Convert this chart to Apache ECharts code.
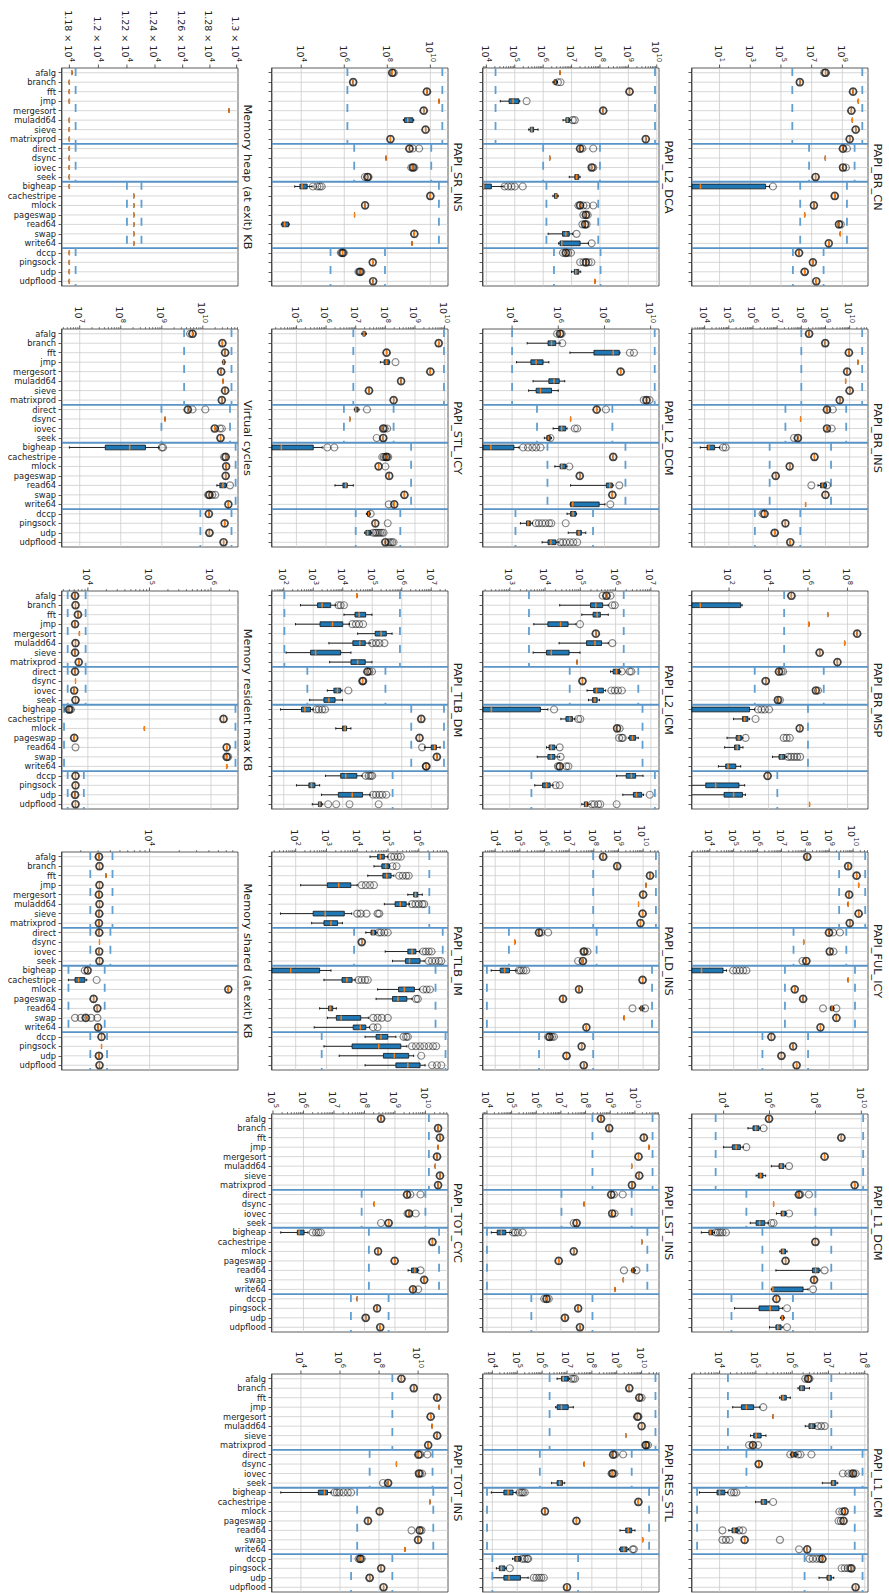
<!DOCTYPE html>
<html>
<head>
<meta charset="utf-8">
<script src="https://cdn.jsdelivr.net/npm/echarts@6/dist/echarts.min.js"></script>
<style>
  html, body { margin: 0; padding: 0; background: #fff; overflow: hidden; width: 889px; height: 1593px; }
  /* the figure is drawn landscape and turned a quarter clockwise */
  #main { position: absolute; left: 0; top: 0; width: 1593px; height: 889px;
          transform-origin: 0 0; transform: translate(889px, 0) rotate(90deg); }
</style>
</head>
<body>
<div id="main"></div>
<script>
const categories = ['afalg', 'branch', 'fft', 'jmp', 'mergesort', 'muladd64', 'sieve', 'matrixprod',
  'direct', 'dsync', 'iovec', 'seek',
  'bigheap', 'cachestripe', 'mlock', 'pageswap', 'read64', 'swap', 'write64',
  'dccp', 'pingsock', 'udp', 'udpflood'];
const groups = [[0, 7], [8, 11], [12, 18], [19, 22]];

// box entries: number = runs all at one value (median + circle), [v] = median only,
// [lo, q1, med, q3, hi] = full box.  *Out = extra fliers [category, value].
// *Ref = per group dashed lines [low, high].

// PAPI_BR_CN
const brCnBox = [8e7, 1.7e6, 5e9, [1.1e10], 3.9e9, [4.5e9], 7.4e9, 3e9, 1.1e9, [7.8e7], 1.1e9, 1.8e7,
  [0.05, 0.1, 0.57, 1e4, 1.8e4], 3.2e8, 1.4e7, [3.5e6], 6e8, [7.4e8], 1.3e8, 1.5e6, 1.2e7, 3.5e6, 2e7];
const brCnOut = [[0, 6.5e7], [8, 2e9], [10, 1.7e9], [12, 3e4], [16, 8e8]];
const brCnRef = [[5.5e5, 2e10], [6.8e6, 6.3e9], [1.8e6, 2e9], [6e5, 6e7]];
const brCnDec = [1, 3, 5, 7, 9];

// PAPI_BR_INS
const brInsBox = [2.1e8, 9.8e8, 9.3e9, [2.2e10], 7.9e9, [6.8e9], 1e10, 3.9e9, 1.15e9, [9.3e7], 1.15e9, 7.2e7,
  [6.6e3, 1.26e4, 1.5e4, 2.6e4, 4.2e4], 3.5e8, 3.3e7, 8.7e6, [4.9e8, 6.2e8, 7.9e8, 1.07e9, 1.1e9], 1e9, [1.5e8],
  3e6, 2.2e7, 7.9e6, 3.5e7];
const brInsOut = [[8, 2e9], [10, 1.8e9], [11, 5e7], [12, 5.8e4], [12, 7.4e4], [16, 2.6e8], [16, 1.15e9], [19, 2.5e6]];
const brInsRef = [[1e8, 3.3e10], [2.2e7, 7.2e9], [4.9e6, 1.7e9], [1.2e6, 9.1e7]];
const brInsDec = [4, 5, 6, 7, 8, 9, 10];

// PAPI_BR_MSP
const brMspBox = [1.45e5, [1, 1, 3.5, 3.9e2, 4.6e2], [1e7], [1.1e6], 3.1e8, [7.2e7], 3.9e6, 3.1e7, 3.4e4, 7.2e3, 2.5e6, 3e4,
  [1, 1, 1.2, 1.1e3, 2e3], [1.7e2, 4.8e2, 6.2e2, 9.1e2, 1.1e3], 3.8e5, [79, 2.3e2, 3.2e2, 4.2e2, 5.1e2],
  [60, 1.9e2, 2.6e2, 3.5e2, 5.1e2], [1.6e4, 3.4e4, 4.5e4, 6.6e4, 8.1e4], [29, 68, 89, 2.2e2, 3.9e2],
  9e3, [1, 6.6, 21, 3.2e2, 6.2e2], [1, 56, 1.7e2, 4.8e2, 6.8e2], [1.2e6]];
const brMspOut = [[8, 4.5e4], [8, 5.5e4], [10, 3.2e6], [11, 3.8e4], [12, 3e3], [12, 4.4e3], [12, 6.5e3], [12, 1.07e4],
  [13, 2.2e3], [15, 6.9e2], [15, 5.9e4], [15, 8.3e4], [15, 1.2e5], [17, 1e5], [17, 1.4e5], [17, 2e5], [17, 2.8e5], [17, 4e5]];
const brMspRef = [[6.2e4, 5e9], [2e3, 6.3e6], [1, 1e6], [1, 2.8e4]];
const brMspDec = [2, 4, 6, 8];

// PAPI_FUL_ICY
const fulIcyBox = [1.2e8, 6.2e9, 1.4e10, [1.7e10], 6.8e9, [6.2e9], 1.7e10, 7.2e9, 9.8e8, [8.5e7], 1.05e9, 1.1e8,
  [5e2, 1e3, 4.5e3, 3.6e4, 5e4], [6.2e9], 3.6e7, 8.1e7, [1.1e9, 1.15e9, 1.35e9, 1.5e9, 1.6e9], 2e9, 4.3e8,
  3.8e6, 3.1e7, 1e7, 4.3e7];
const fulIcyOut = [[8, 1.45e9], [8, 2.8e9], [10, 1.5e9], [11, 7.6e7], [12, 9.5e4], [12, 1.3e5], [12, 1.8e5], [12, 2.5e5],
  [12, 3.4e5], [16, 5.5e8], [16, 2e9]];
const fulIcyRef = [[2.6e9, 3.2e10], [3.2e7, 5.2e9], [1.4e7, 1.2e10], [1.6e6, 1.3e8]];
const fulIcyDec = [4, 5, 6, 7, 8, 9, 10];

// PAPI_L1_DCM
const l1DcmBox = [9.5e5, [1.15e5, 1.9e5, 2.5e5, 3.5e5, 4e5], 1.35e9, [1e4, 2.4e4, 3.5e4, 5.4e4, 7.2e4], 2.5e8,
  [1.2e6, 2.6e6, 3.2e6, 4.2e6, 5e6], [2.6e5, 3.2e5, 4.1e5, 5.2e5, 6.8e5], 5.1e9, 1.9e7, [1.5e6],
  [2e6, 3.2e6, 3.9e6, 5e6, 5.6e6], [1.45e5, 2.6e5, 3.7e5, 6.2e5, 8.9e5], [1.07e3, 2.3e3, 2.6e3, 3.4e3, 4e3], 1e8,
  [2.8e6, 3.2e6, 3.9e6, 5e6, 5.8e6], 5e6, [1.9e6, 7.4e7, 1.02e8, 1.45e8, 1.6e8], 8.7e7,
  [1.2e6, 1.3e6, 1.4e6, 2.9e7, 4.8e7], 2e6, [3e4, 3.5e5, 1.07e6, 2.6e6, 3.7e6], [3e6, 3.4e6, 3.6e6, 4e6, 4.4e6],
  [1e6, 1.9e6, 2.3e6, 3.2e6, 3.8e6]];
const l1DcmOut = [[1, 5.5e5], [3, 9.8e4], [5, 7.1e6], [8, 2.2e7], [8, 5.2e7], [10, 7.1e6], [11, 1.2e6], [11, 1.5e6],
  [12, 4.5e3], [12, 5.6e3], [12, 7.1e3], [12, 8.9e3], [12, 1.26e4], [16, 2.5e8], [18, 7.9e7], [20, 5.8e6], [22, 5.8e6]];
const l1DcmRef = [[4.5e3, 1.2e10], [9.8e4, 1e8], [4.9e5, 4.9e8], [2.2e4, 1.05e7]];
const l1DcmDec = [4, 6, 8, 10];

// PAPI_L1_ICM
const l1IcmBox = [2.75e6, [1.45e6, 1.6e6, 1.8e6, 2.2e6, 3e6], [4.5e5, 5e5, 5.6e5, 6.9e5, 8.9e5],
  [2.3e4, 4e4, 5.5e4, 8.7e4, 1.3e5], [3e5], [2.3e6, 2.9e6, 3.4e6, 4.2e6, 4.5e6], [7.1e4, 8.7e4, 1.02e5, 1.4e5, 1.9e5],
  8.3e4, [8.9e5, 9.3e5, 1.05e6, 1.3e6, 1.45e6], 1.2e5, 4.8e7, [6.8e6, 1.2e7, 1.35e7, 1.6e7, 1.8e7],
  [2.8e3, 8.5e3, 1e4, 1.4e4, 1.7e4], [9.8e4, 1.4e5, 1.6e5, 2e5, 2.3e5], 2.8e7, 2.6e7,
  [1.8e4, 2.2e4, 2.5e4, 3.2e4, 3.4e4], 4.9e4, 2.6e6, 6.8e6, 4.3e7, [5.5e6, 9.1e6, 1.05e7, 1.2e7, 1.4e7], 5.6e7];
const l1IcmOut = [[0, 2.3e6], [0, 3e6], [3, 1.6e5], [5, 5.1e6], [5, 6.3e6], [5, 7.9e6], [7, 6.5e4], [7, 1.15e5],
  [8, 8.9e5], [8, 1.45e6], [8, 1.7e6], [8, 3.4e6], [10, 2.5e7], [10, 3.5e7], [10, 4.3e7], [10, 5.6e7],
  [12, 2.1e4], [12, 2.5e4], [12, 2.9e4], [13, 3e5], [14, 2e7], [14, 2.4e7], [15, 1.9e7], [15, 2.2e7],
  [16, 1.2e4], [16, 3.5e4], [16, 4.4e4], [17, 1.2e4], [17, 1.5e4], [17, 1.9e4], [17, 4.6e5], [18, 1.55e6],
  [19, 3e6], [19, 3.7e6], [19, 4.7e6], [19, 5.8e6], [20, 2.3e7], [20, 2.8e7], [20, 3.4e7], [20, 3.9e7]];
const l1IcmRef = [[1.7e4, 1.2e7], [5.5e4, 8.7e7], [2.4e3, 5.3e7], [2.2e6, 8.7e7]];
const l1IcmDec = [4, 5, 6, 7, 8];

// PAPI_L2_DCA
const l2DcaBox = [[3.9e6], [2.2e6, 2.4e6, 2.6e6, 3e6, 3.2e6], 1.1e9, [3.1e4, 6.3e4, 8.7e4, 1.4e5, 1.5e5], 1.3e8,
  [5e6, 6.3e6, 7.1e6, 8.3e6, 9.5e6], [3.1e5, 3.5e5, 3.9e5, 4.6e5, 6.6e5], 4.1e9, 2e7, [1.7e6], 5.1e7,
  [8.3e6, 1.3e7, 1.5e7, 1.8e7, 2e7], [5e3, 6e3, 8e3, 1.5e4, 3.9e4], [2.2e6, 2.5e6, 2.8e6, 3.1e6, 3.4e6], 2e7, 3.2e7, 3e7,
  [1.5e6, 4.8e6, 6.3e6, 8.3e6, 1.1e7], [3.5e6, 3.9e6, 4.5e6, 2e7, 3.9e7], 6.3e6, 3.2e7,
  [1e7, 1.25e7, 1.4e7, 1.8e7, 2.1e7], [6.6e7]];
const l2DcaOut = [[1, 3.3e6], [1, 4.1e6], [3, 2.6e5], [5, 1.1e7], [5, 1.3e7], [8, 2.4e7], [8, 5.8e7], [10, 5.8e7],
  [12, 4.4e4], [12, 5.8e4], [12, 7.6e4], [12, 1e5], [12, 1.9e5], [14, 1.75e7], [14, 2.6e7], [14, 3.4e7], [14, 5.8e7],
  [15, 2.6e7], [15, 3.7e7], [16, 2.4e7], [16, 3.4e7], [17, 1.5e7], [18, 5.1e7], [19, 5e6], [19, 7.5e6], [19, 9.5e6],
  [20, 2e7], [20, 2.6e7], [20, 4e7], [20, 5e7]];
const l2DcaRef = [[2.1e4, 8.7e9], [1e6, 1e8], [1.3e6, 8.7e7], [2.4e6, 1.05e8]];
const l2DcaDec = [4, 5, 6, 7, 8, 9, 10];

// PAPI_L2_DCM
const l2DcmBox = [1.2e6, [4.5e4, 3.6e5, 5.1e5, 7.8e5, 1.2e6], [3.2e6, 3.5e7, 2.4e8, 4.4e8, 4.7e8],
  [1.55e4, 6.5e4, 1.1e5, 2.2e5, 3.9e5], 5e8, [8.1e4, 3.9e5, 6.5e5, 1.1e6, 1.9e6], [5.2e4, 1.1e5, 1.7e5, 5.1e5, 1e6],
  6.6e9, 4.6e7, [3.4e6], [6e5, 1.05e6, 1.4e6, 2.1e6, 2.4e6], [2.5e5, 3.2e5, 3.6e5, 4.5e5, 5.1e5],
  [1e2, 2e2, 1.2e3, 1.2e4, 2e4], 2.4e8, [7.1e5, 1.2e6, 1.4e6, 2.1e6, 2.4e6], 8.5e6,
  [3.4e6, 1.2e8, 1.7e8, 2.2e8, 2.4e8], 2.2e8, [3.3e6, 3.4e6, 4.2e6, 5.9e7, 1.05e8], [2.4e6, 3.4e6, 4.4e6, 5.8e6, 6.2e6],
  [2.3e4, 4.2e4, 4.9e4, 6.2e4, 7.5e4], [2.7e6, 6.3e6, 7.9e6, 1e7, 1.55e7], [2e5, 3.6e5, 4.8e5, 7.8e5, 1e6]];
const l2DcmOut = [[0, 8.9e5], [0, 1.4e6], [1, 1.5e6], [2, 1.26e9], [2, 1.9e9], [7, 5e9], [7, 9e9], [8, 1.15e8],
  [10, 5.2e6], [10, 6.6e6], [11, 4.6e5], [12, 3e4], [12, 4.9e4], [12, 7.6e4], [12, 1.1e5], [12, 1.7e5], [14, 3e6],
  [16, 4.4e8], [18, 1.8e8], [20, 1.07e5], [20, 1.45e5], [20, 2e5], [20, 2.8e5], [20, 4e5], [20, 5e5], [20, 2.1e6],
  [22, 1.2e6], [22, 1.6e6], [22, 2.2e6], [22, 3.2e6], [22, 4.5e6], [22, 6.6e6]];
const l2DcmRef = [[1e4, 1.5e10], [1.2e5, 2.2e8], [3.4e5, 8.1e8], [1.4e4, 3.2e7]];
const l2DcmDec = [4, 6, 8, 10];

// PAPI_L2_ICM
const l2IcmBox = [5.5e5, [2.6e4, 1.95e5, 2.75e5, 4.3e5, 6.2e5], [1.1e5, 2.3e5, 3e5, 3.7e5, 6.2e5],
  [4.8e3, 1.2e4, 2.75e4, 4.5e4, 7.5e4], 2.75e5, [2.5e4, 1.5e5, 2.6e5, 4e5, 6.2e5], [4.6e3, 1.1e4, 1.5e4, 4.8e4, 9.8e4],
  [8.1e4], [7.2e5, 8.5e5, 1.07e6, 1.3e6, 1.4e6], 1.15e5, [1.55e5, 2.4e5, 2.9e5, 4.5e5, 5.2e5],
  [1.7e5, 2.2e5, 2.6e5, 3e5, 3.5e5], [50, 100, 3e2, 7.4e3, 1.2e4], [2.8e4, 3.9e4, 5e4, 6e4, 7e4], 1.1e6,
  [2.3e6, 2.5e6, 3e6, 3.7e6, 4.4e6], [1.1e4, 1.3e4, 1.5e4, 1.9e4, 2.1e4], [6e3, 1.2e4, 1.5e4, 1.9e4, 2.6e4], 2.6e4,
  [1.07e6, 2e6, 2.8e6, 3.7e6, 6e6], [5.1e3, 8.5e3, 1.1e4, 1.4e4, 1.7e4], [1.6e6, 3.2e6, 3.9e6, 5.5e6, 6.2e6],
  [1.1e5, 1.3e5, 1.45e5, 1.6e5, 1.9e5]];
const l2IcmOut = [[0, 4.3e5], [0, 7.2e5], [1, 8.1e5], [1, 9.5e5], [3, 9.8e4], [5, 8.1e5], [8, 1.5e6], [8, 2.5e6],
  [8, 2.8e6], [10, 7.6e5], [10, 9.5e5], [10, 1.17e6], [10, 1.5e6], [12, 1.8e4], [13, 8.7e4], [13, 1e5], [14, 1.3e6],
  [15, 1.26e6], [15, 1.5e6], [15, 1.6e6], [16, 2.6e4], [17, 2.75e4], [18, 2.3e4], [18, 4e4], [18, 4.6e4], [20, 2e4],
  [20, 2.6e4], [21, 9.3e6], [22, 2.1e5], [22, 2.5e5], [22, 3.2e5], [22, 3.7e5], [22, 1.07e6]];
const l2IcmRef = [[3.5e3, 1.7e6], [5e4, 4.4e6], [100, 5.8e6], [4.1e3, 1.3e7]];
const l2IcmDec = [3, 4, 5, 6, 7];

// PAPI_LD_INS
const ldInsBox = [2.4e8, 8.9e8, 1.9e10, [1.3e10], 1e10, [6.5e9], 9.5e9, 7.8e9, 6e5, [6.2e4], 3.9e7, 3.6e7,
  [6.9e3, 1.6e4, 2.4e4, 3.8e4, 7.1e4], 9.5e9, 2.5e7, 5.6e6, [7e9, 7.8e9, 8.5e9, 9.8e9, 1.1e10], [1.7e9], 5e7,
  1.6e6, 3.2e7, 7.8e6, 3.9e7];
const ldInsOut = [[8, 7.4e5], [8, 1.4e6], [10, 4.3e7], [10, 5.5e7], [11, 2.3e7], [12, 9.1e4], [12, 1.1e5], [12, 1.4e5],
  [12, 1.8e5], [16, 3.7e9], [16, 1.2e10], [19, 1.4e6], [19, 2e6], [19, 2.4e6]];
const ldInsRef = [[9.4e7, 3.3e10], [3.6e4, 1.3e8], [4.6e3, 2.3e10], [6e5, 9.4e7]];
const ldInsDec = [4, 5, 6, 7, 8, 9, 10];

// PAPI_LST_INS
const lstInsBox = [4.2e8, 9.1e8, 2.3e10, [3.7e10], 1.4e10, [7.4e9], 1.5e10, 7.6e9, 1.1e9, [8.7e7], 1.2e9, 4.3e7,
  [1.5e4, 2.6e4, 3.8e4, 5.8e4, 1e5], [1.9e10], 3.3e7, 8.1e6, [7.2e9, 7.6e9, 8.1e9, 9.5e9, 1.05e10], [3.4e9], [1.55e9],
  2.6e6, 5e7, 1.45e7, 5.9e7];
const lstInsOut = [[8, 1.4e9], [8, 3.2e9], [10, 1.5e9], [11, 3.3e7], [12, 1.15e5], [12, 1.4e5], [12, 1.8e5], [12, 2.8e5],
  [16, 3.6e9], [16, 1.15e10], [19, 2.1e6], [19, 3.2e6]];
const lstInsRef = [[1.9e8, 5.2e10], [1.05e7, 7.4e9], [1e4, 3.2e10], [6.3e5, 1.9e8]];
const lstInsDec = [4, 5, 6, 7, 8, 9, 10];

// PAPI_RES_STL
const resStlBox = [[4e6, 6e6, 7.1e6, 1.12e7, 1.3e7], 3.2e9, 8.1e9, [3.5e6, 4e6, 6e6, 1.12e7, 1.8e7], 6.8e9, 1e10, [2.3e9],
  1.5e10, 7.2e8, [4.9e7], 6.8e8, [2.4e6, 4e6, 5.1e6, 6.6e6, 8.1e6], [9.1e3, 2.9e4, 4.3e4, 6.8e4, 9e4], 7.4e9, 1.3e6,
  2.4e7, [1.35e9, 2.3e9, 2.9e9, 4e9, 5.4e9], [1.1e10], [1.3e9, 1.4e9, 1.95e9, 2.6e9, 3e9],
  [6.5e4, 7.9e4, 9.8e4, 1.35e5, 1.4e5], [1.45e4, 1.9e4, 2.3e4, 3.2e4, 3.6e4], [1e4, 2.9e4, 4.7e4, 1.35e5, 2.75e5], 1e7];
const resStlOut = [[0, 1.5e7], [0, 1.8e7], [0, 2.1e7], [2, 1e10], [4, 7.5e9], [7, 1.4e10], [7, 1.8e10], [8, 8.5e8],
  [8, 1.8e9], [10, 6.2e8], [10, 8e8], [12, 1.26e5], [12, 1.5e5], [12, 1.7e5], [12, 2e5], [18, 4.4e9], [18, 4.9e9],
  [19, 1.6e5], [19, 2e5], [19, 2.5e5], [19, 2.75e5], [20, 5e4], [21, 4.6e5], [21, 5.9e5], [21, 7.6e5], [21, 9.3e5],
  [21, 1.17e6]];
const resStlRef = [[2e6, 3.6e10], [8.1e5, 4e9], [6.1e3, 2e10], [1e4, 2.8e7]];
const resStlDec = [4, 5, 6, 7, 8, 9, 10];

// PAPI_SR_INS
const srInsBox = [1.7e8, 2.6e6, 6.9e9, [2.5e10], 4.9e9, [5.6e8, 6.3e8, 8.9e8, 1.55e9, 1.7e9], 6e9, 1.4e8, 1.07e9,
  [8.7e7], 1.55e9, 1.2e7, [5e3, 8.7e3, 1.1e4, 1.9e4, 3.2e4], 1e10, 9.3e6, [3e6], [1.2e3, 1.3e3, 1.7e3, 2.6e3, 2.8e3],
  1.8e9, [1.4e9], 8.3e5, 2.1e7, 5.4e6, 2.2e7];
const srInsOut = [[0, 2e8], [8, 1.55e9], [8, 3e9], [10, 1.3e9], [10, 1.8e9], [11, 9.1e6], [11, 1.35e7], [12, 3.5e4],
  [12, 5.6e4], [12, 7.2e4], [12, 8.9e4], [19, 7e5], [19, 9.5e5], [21, 4.6e6], [21, 6.2e6]];
const srInsRef = [[1.4e6, 3.6e10], [2.9e6, 1.1e10], [1e2, 2.5e10], [2.3e5, 7.8e7]];
const srInsDec = [4, 6, 8, 10];

// PAPI_STL_ICY
const stlIcyBox = [[1.6e7, 1.75e7, 1.9e7, 2.1e7, 2.3e7], 6.3e9, 1.1e8, [6.8e7, 9.1e7, 1.1e8, 1.35e8, 1.4e8], 3.3e9,
  3.4e8, 2.8e7, 1.9e8, [9e6, 9.5e6, 1e7, 1.2e7, 1.3e7], [6.3e6], 8.5e7, 8.5e7, [5e3, 8e3, 3.1e4, 3.7e5, 7.4e5], 1.1e8,
  5.9e7, 1.35e8, [2e6, 3.7e6, 4.6e6, 5.2e6, 8.3e6], 4.4e8, 2e8, [2.3e7, 2.5e7, 2.7e7, 3e7, 3.1e7], 4.6e7,
  [2e7, 2.2e7, 2.5e7, 3.2e7, 3.5e7], 1e8];
const stlIcyOut = [[3, 2.2e8], [8, 2.4e7], [10, 9.5e7], [10, 1.15e8], [11, 5.1e7], [12, 1.1e6], [12, 1.9e6], [13, 7.9e7],
  [13, 8.9e7], [13, 1e8], [13, 1.25e8], [14, 1e8], [18, 1.3e8], [19, 3.2e7], [20, 1.2e8], [21, 3.9e7], [21, 4.5e7],
  [21, 5e7], [21, 5.8e7], [21, 6.6e7], [21, 7.6e7], [21, 8.7e7], [22, 1.3e8], [22, 1.5e8], [22, 1.7e8], [22, 1.9e8]];
const stlIcyRef = [[8.3e6, 9.5e9], [4e6, 1.9e8], [5e3, 7.4e8], [1e7, 3.2e8]];
const stlIcyDec = [5, 6, 7, 8, 9, 10];

// PAPI_TLB_DM
const tlbDmBox = [[3e4], [3.7e2, 1.4e3, 2e3, 3.9e3, 5.8e3], [1.1e4, 2.6e4, 3.6e4, 6e4, 9.8e4],
  [2.5e2, 1.7e3, 4.5e3, 1e4, 1.7e4], [3.2e4, 1.26e5, 2e5, 3e5, 4.7e5], [3.4e3, 2.2e4, 3.8e4, 5.8e4, 8.5e4],
  [1.2e2, 8.1e2, 1.2e3, 8.5e3, 1.9e4], [3.6e3, 1.9e4, 3.2e4, 5.8e4, 9.8e4], 6.9e4, 4.7e4,
  [3e3, 5e3, 6.6e3, 8.5e3, 9.5e3], [7.6e2, 2.3e3, 3.4e3, 5.5e3, 9.8e3], [78, 4e2, 5.2e2, 8.1e2, 1e3], 4.6e6,
  [5.8e3, 9.8e3, 1.2e4, 1.35e4, 1.9e4], 4e6, [5.9e6, 1e7, 1.3e7, 1.5e7, 2e7], 1.55e7, 6.8e6,
  [2.6e3, 8.5e3, 1.26e4, 3e4, 4.5e4], [2.7e2, 7.1e2, 8.7e2, 1.15e3, 1.65e3], [1.9e3, 7.1e3, 2.1e4, 4.7e4, 8.5e4],
  [9.3e2, 1.5e3, 1.65e3, 1.9e3, 2.1e3]];
const tlbDmOut = [[1, 7.1e3], [1, 8.5e3], [1, 1.1e4], [3, 2.1e4], [3, 2.8e4], [3, 3.6e4], [3, 4.9e4], [5, 1e5],
  [5, 1.35e5], [5, 1.75e5], [5, 2.6e5], [8, 8e4], [8, 9.8e4], [9, 5e4], [10, 1.55e4], [12, 1.26e3], [12, 1.55e3],
  [12, 2e3], [12, 2.5e3], [16, 4.9e6], [18, 6.5e6], [19, 6e4], [19, 7.6e4], [19, 8.9e4], [19, 1e5], [21, 1.07e5],
  [21, 1.35e5], [21, 1.75e5], [21, 2.2e5], [21, 3e5], [22, 3.2e3], [22, 6e3], [22, 1.7e4], [22, 1.65e5]];
const tlbDmRef = [[1.05e2, 8.7e5], [6.3e2, 2.8e5], [2.1e6, 2.7e7], [10, 4.9e5]];
const tlbDmDec = [2, 3, 4, 5, 6, 7];

// PAPI_TLB_IM
const tlbImBox = [[2.6e4, 4.6e4, 5.6e4, 7.6e4, 1e5], [3.5e4, 6.3e4, 8.5e4, 1.1e5, 1.15e5],
  [2.2e4, 6.8e4, 9.1e4, 1.26e5, 1.55e5], [1.45e2, 1.07e3, 2.5e3, 6.2e3, 1e4], [4.4e5, 6.8e5, 7.8e5, 9.3e5, 1.3e6],
  [7.6e4, 1.7e5, 2.5e5, 3.9e5, 5e5], [32, 3.7e2, 9.1e2, 3.8e3, 6.6e3], [3.3e2, 8.3e2, 1.4e3, 2.3e3, 3.3e3],
  [1.9e4, 2.8e4, 3.3e4, 3.9e4, 4.3e4], 1.4e4, [8.1e4, 4.4e5, 6e5, 8.1e5, 1.05e6], [1.4e5, 3.7e5, 5e5, 1.1e6, 1.5e6],
  [5, 10, 69, 6e2, 1.4e3], [8.3e2, 3.2e3, 4.6e3, 6.8e3, 8.5e3], [4.6e4, 2.2e5, 3.4e5, 7.2e5, 1.05e6],
  [4.1e4, 1.4e5, 2.1e5, 4.1e5, 6e5], [6e2, 1.17e3, 1.3e3, 1.6e3, 2.1e3], [1.07e3, 2.1e3, 3e3, 1.3e4, 2.3e4],
  [4e2, 7.4e3, 1.26e4, 1.9e4, 2.5e4], [1.8e4, 4.1e4, 5.9e4, 9.8e4, 1.8e5], [8.3e2, 6.8e3, 5e4, 2.6e5, 4.1e5],
  [2.6e3, 7.1e4, 1.6e5, 4.7e5, 6.8e5], [1.8e4, 1.8e5, 4.4e5, 1.1e6, 1.6e6]];
const tlbImOut = [[0, 1.26e5], [0, 1.6e5], [0, 2.1e5], [0, 2.6e5], [1, 1.4e5], [1, 1.9e5], [2, 2.3e5], [2, 3e5],
  [2, 3.9e5], [2, 4.7e5], [3, 1.4e4], [3, 1.9e4], [3, 2.6e4], [3, 3.5e4], [5, 6e5], [5, 7.8e5], [5, 1e6], [5, 1.3e6],
  [5, 1.5e6], [6, 1e4], [6, 1.3e4], [6, 2e4], [6, 4.6e4], [6, 5.2e4], [8, 5e4], [8, 5.9e4], [8, 7.6e4], [8, 9.8e4],
  [10, 1.4e6], [10, 1.7e6], [10, 2.1e6], [10, 2.6e6], [11, 2.1e6], [11, 2.7e6], [11, 3.5e6], [11, 4.5e6], [11, 5.4e6],
  [13, 1.1e4], [13, 1.4e4], [13, 1.8e4], [13, 2.2e4], [14, 1.4e6], [14, 1.8e6], [14, 2.3e6], [15, 8.1e5], [15, 9.3e5],
  [17, 3.3e4], [17, 4.6e4], [17, 6.3e4], [17, 9.8e4], [18, 3.3e4], [18, 4.6e4], [19, 3.2e5], [19, 3.9e5], [19, 4.4e5],
  [20, 6e5], [20, 8.1e5], [20, 1.1e6], [20, 1.5e6], [20, 2.1e6], [20, 2.9e6], [20, 3.7e6], [21, 1.2e6], [22, 2.7e6],
  [22, 3.9e6], [22, 5.4e6]];
const tlbImRef = [[1, 2.2e6], [7.9e3, 6e6], [1, 3.5e6], [7e2, 7.4e6]];
const tlbImDec = [2, 3, 4, 5, 6];

// PAPI_TOT_CYC
const totCycBox = [3.5e8, 2.6e10, 3e10, [2.6e10], 2.4e10, [2.1e10], 3e10, 2.6e10, 2.5e9, [2.1e8], 2.9e9, 6.2e8,
  [1.8e5, 6.3e5, 7.2e5, 1.05e6, 1.4e6], 1.7e10, 2.8e8, 9.8e8, [2.7e9, 3.5e9, 4.5e9, 5.5e9, 6e9], 9.1e9, 3.9e9,
  [5.8e7], 2.6e8, 1.1e8, 3.3e8];
const totCycOut = [[8, 3.2e9], [8, 6.9e9], [10, 2.6e9], [10, 4.8e9], [11, 3.5e8], [12, 2e6], [12, 2.6e6], [12, 3.1e6],
  [12, 3.7e6], [16, 6.9e9], [18, 5.8e9]];
const totCycRef = [[1.3e10, 1e11], [8.1e7, 1e10], [1.4e8, 2.8e10], [3.6e7, 6.2e8]];
const totCycDec = [5, 6, 7, 8, 9, 10];

// PAPI_TOT_INS
const totInsBox = [1.4e9, 6e9, 9.5e10, [1.2e11], 4.4e10, [5.2e10], 9.5e10, 3.3e10, 1.05e10, [7.8e8], 1.1e10, 2.9e8,
  [9.3e2, 7.8e4, 1.6e5, 2.3e5, 3.5e5], [4e10], 1.07e8, 2.7e7, 1.2e10, 1e10, [2.1e9], 1.1e7, 1.3e8, 3.3e7, 1.7e8];
const totInsOut = [[8, 1.3e10], [8, 3e10], [10, 1.3e10], [10, 1.6e10], [11, 1.6e8], [12, 5.2e5], [12, 6.9e5],
  [12, 9.3e5], [12, 1.5e6], [12, 2.5e6], [12, 3.7e6], [16, 4.6e9], [16, 1.5e10], [19, 9e6], [19, 1.3e7]];
const totInsRef = [[4.8e8, 1e12], [3.3e7, 5.5e10], [7.6e6, 6e10], [3.7e6, 4.8e8]];
const totInsDec = [4, 6, 8, 10];

// Memory heap (at exit) KB
const heapBox = [[11817], [11800], [11800], [11800], [12943], [11800], [11800], [11800], [11800], [11800], [11800],
  [11800], [11800], [12248], [12248], [12248], [12248], [12248], [12248], [11800], [11800], [11800], [11800]];
const heapOut = [];
const heapRef = [[11700, 11843], [11700, 11843], [12200, 12303], [11700, 11843]];
const heapTicks = [11800, 12000, 12200, 12400, 12600, 12800, 13000];
const heapLabels = ['1.18 × 10^4', '1.2 × 10^4', '1.22 × 10^4', '1.24 × 10^4', '1.26 × 10^4', '1.28 × 10^4', '1.3 × 10^4'];

// Virtual cycles
const vcycBox = [5.6e9, 3e10, 3.5e10, [3e10, 3.1e10, 3.2e10, 3.4e10, 3.5e10], 2.8e10, [3.1e10], 3.5e10, 2.9e10, 4.3e9,
  [1.2e9], 1.95e10, 2.7e10, [5.6e6, 4.2e7, 1.65e8, 4e8, 8.5e8], 3.6e10, 3.7e10, 3.6e10,
  [2.2e10, 2.6e10, 3.1e10, 3.7e10, 3.8e10], 1.45e10, 4.2e10, 1.4e10, 3.4e10, 1.45e10, 3.2e10];
const vcycOut = [[0, 4.9e9], [8, 5.6e9], [8, 1.15e10], [10, 2.6e10], [10, 2.9e10], [12, 1e9], [12, 1.07e9], [13, 3.3e10],
  [16, 4.6e10], [17, 1.35e10], [17, 1.7e10], [17, 2e10]];
const vcycRef = [[3.5e9, 5e10], [9.8e8, 4.6e10], [1e6, 6.3e10], [8.7e9, 5e10]];
const vcycDec = [7, 8, 9, 10];

// Memory resident max KB
const rssBox = [6.2e3, 6.3e3, 6.9e3, 6.2e3, [7.3e3], 6.3e3, 6.2e3, 7.1e3, 6.2e3, [6.3e3], 6e3, 6.3e3, 5e3, 1.6e6,
  [8.3e4], 6e3, 1.8e6, 1.8e6, [1.8e6], 6.3e3, 6.3e3, 6.2e3, 6.3e3];
const rssOut = [[12, 4.8e3], [12, 5.3e3], [16, 6.3e3], [17, 1.9e6]];
const rssRef = [[4.7e3, 9.2e3], [4.7e3, 9.2e3], [4.1e3, 2.5e6], [4.7e3, 8.6e3]];
const rssDec = [4, 5, 6];

// Memory shared (at exit) KB
const shmBox = [3.06e3, 3.1e3, [3.6e3], 3.1e3, 3.06e3, 3.1e3, 3.08e3, 3.06e3, 3.08e3, [3.1e3], 3.08e3, 3.1e3, 2.35e3,
  [1.5e3, 1.75e3, 1.9e3, 2.2e3, 2.3e3], 6.3e4, 2.7e3, 2.95e3, 2.25e3, 3e3, 3.25e3, [3.25e3], 3.06e3, 3.1e3];
const shmOut = [[12, 2.2e3], [13, 2.9e3], [17, 1.75e3], [17, 2e3], [17, 2.55e3], [17, 2.95e3]];
const shmRef = [[2.5e3, 4.2e3], [2.5e3, 4e3], [1.5e3, 3.5e3], [2.5e3, 3.7e3]];
const shmDec = [4];

function decades(list) {
  return { ticks: list.map(e => Math.pow(10, e)), labels: list.map(e => '10^' + e) };
}

// row, col in the landscape figure
const panels = [
  { row: 0, col: 0, title: 'PAPI_BR_CN', box: brCnBox, out: brCnOut, ref: brCnRef, ...decades(brCnDec), lim: [0.16, 4.7e10], minor: false },
  { row: 0, col: 1, title: 'PAPI_BR_INS', box: brInsBox, out: brInsOut, ref: brInsRef, ...decades(brInsDec), lim: [3e3, 5.75e10], minor: true },
  { row: 0, col: 2, title: 'PAPI_BR_MSP', box: brMspBox, out: brMspOut, ref: brMspRef, ...decades(brMspDec), lim: [1.33, 1.1e9], minor: false },
  { row: 0, col: 3, title: 'PAPI_FUL_ICY', box: fulIcyBox, out: fulIcyOut, ref: fulIcyRef, ...decades(fulIcyDec), lim: [1.8e3, 4.2e10], minor: true },
  { row: 0, col: 4, title: 'PAPI_L1_DCM', box: l1DcmBox, out: l1DcmOut, ref: l1DcmRef, ...decades(l1DcmDec), lim: [4.2e2, 1.95e10], minor: false },
  { row: 0, col: 5, title: 'PAPI_L1_ICM', box: l1IcmBox, out: l1IcmOut, ref: l1IcmRef, ...decades(l1IcmDec), lim: [1.74e3, 1.23e8], minor: true },
  { row: 1, col: 0, title: 'PAPI_L2_DCA', box: l2DcaBox, out: l2DcaOut, ref: l2DcaRef, ...decades(l2DcaDec), lim: [7.6e3, 1.2e10], minor: true },
  { row: 1, col: 1, title: 'PAPI_L2_DCM', box: l2DcmBox, out: l2DcmOut, ref: l2DcmRef, ...decades(l2DcmDec), lim: [5.5e2, 2.3e10], minor: false },
  { row: 1, col: 2, title: 'PAPI_L2_ICM', box: l2IcmBox, out: l2IcmOut, ref: l2IcmRef, ...decades(l2IcmDec), lim: [1.74e2, 1.7e7], minor: true },
  { row: 1, col: 3, title: 'PAPI_LD_INS', box: ldInsBox, out: ldInsOut, ref: ldInsRef, ...decades(ldInsDec), lim: [3.2e3, 4.4e10], minor: true },
  { row: 1, col: 4, title: 'PAPI_LST_INS', box: lstInsBox, out: lstInsOut, ref: lstInsRef, ...decades(lstInsDec), lim: [6.9e3, 9.5e10], minor: true },
  { row: 1, col: 5, title: 'PAPI_RES_STL', box: resStlBox, out: resStlOut, ref: resStlRef, ...decades(resStlDec), lim: [4.2e3, 5e10], minor: true },
  { row: 2, col: 0, title: 'PAPI_SR_INS', box: srInsBox, out: srInsOut, ref: srInsRef, ...decades(srInsDec), lim: [4.4e2, 6.6e10], minor: false },
  { row: 2, col: 1, title: 'PAPI_STL_ICY', box: stlIcyBox, out: stlIcyOut, ref: stlIcyRef, ...decades(stlIcyDec), lim: [1.5e4, 1.3e10], minor: true },
  { row: 2, col: 2, title: 'PAPI_TLB_DM', box: tlbDmBox, out: tlbDmOut, ref: tlbDmRef, ...decades(tlbDmDec), lim: [40, 3.7e7], minor: true },
  { row: 2, col: 3, title: 'PAPI_TLB_IM', box: tlbImBox, out: tlbImOut, ref: tlbImRef, ...decades(tlbImDec), lim: [17, 8.9e6], minor: true },
  { row: 2, col: 4, title: 'PAPI_TOT_CYC', box: totCycBox, out: totCycOut, ref: totCycRef, ...decades(totCycDec), lim: [9.3e4, 5.5e10], minor: true },
  { row: 2, col: 5, title: 'PAPI_TOT_INS', box: totInsBox, out: totInsOut, ref: totInsRef, ...decades(totInsDec), lim: [3.3e2, 3.4e11], minor: false },
  { row: 3, col: 0, title: 'Memory heap (at exit) KB', box: heapBox, out: heapOut, ref: heapRef, ticks: heapTicks, labels: heapLabels, lim: [11750, 13010], minor: false, noGrid: true },
  { row: 3, col: 1, title: 'Virtual cycles', box: vcycBox, out: vcycOut, ref: vcycRef, ...decades(vcycDec), lim: [3.7e6, 7.2e10], minor: true },
  { row: 3, col: 2, title: 'Memory resident max KB', box: rssBox, out: rssOut, ref: rssRef, ...decades(rssDec), lim: [3.8e3, 2.75e6], minor: true },
  { row: 3, col: 3, title: 'Memory shared (at exit) KB', box: shmBox, out: shmOut, ref: shmRef, ...decades(shmDec), lim: [1.29e3, 7.9e4], minor: true }
];

const colLeft = [68, 329, 591, 852, 1114, 1374];
const rowTop = [21, 230, 441, 651];
const panelW = 218, panelH = 176;

const FONT = '"DejaVu Sans", sans-serif';
const TEXT = '#222';
const AXIS = '#333';
const GRIDC = '#cdcdcd';
const BLUE = '#1f77b4';
const ORANGE = '#ff7f0e';
const REF = '#5f9fd2';
const BASE_PX = 9.5, SUP_PX = 6.7;

function line(x1, y1, x2, y2, stroke, w, dash) {
  const st = { stroke: stroke, lineWidth: w };
  if (dash) st.lineDash = dash;
  return { type: 'line', shape: { x1: x1, y1: y1, x2: x2, y2: y2 }, style: st };
}
function label(str, x, y, align, valign, size) {
  return { type: 'text', style: { text: str, x: x, y: y, fill: TEXT, font: size + 'px ' + FONT,
    align: align, textAlign: align, verticalAlign: valign, textVerticalAlign: valign } };
}

function makeDecor(p) {
  return function (params, api) {
    const cs = params.coordSys;
    const top = cs.y, bottom = cs.y + cs.height, left = cs.x, right = cs.x + cs.width;
    const mid = Math.sqrt(p.lim[0] * p.lim[1]);
    const kids = [];
    categories.forEach((c, i) => {
      const x = api.coord([i, mid])[0];
      kids.push(line(x, top, x, bottom, GRIDC, 0.8));
    });
    if (p.minor) {
      const e0 = Math.floor(Math.log10(p.lim[0])), e1 = Math.ceil(Math.log10(p.lim[1]));
      for (let e = e0; e <= e1; e++) {
        for (let k = 2; k <= 9; k++) {
          const y = api.coord([0, k * Math.pow(10, e)])[1];
          if (y >= top && y <= bottom) kids.push(line(left - 2, y, left, y, AXIS, 0.6));
        }
      }
    }
    p.ticks.forEach((v, k) => {
      const y = api.coord([0, v])[1];
      if (y < top - 0.5 || y > bottom + 0.5) return;
      if (!p.noGrid) kids.push(line(left, y, right, y, GRIDC, 0.8));
      kids.push(line(left - 3.5, y, left, y, AXIS, 0.8));
      // "base^exp": exponent drawn smaller and raised, as mathtext does
      const parts = p.labels[k].split('^');
      const supW = parts[1].length * 0.636 * SUP_PX;
      kids.push(label(parts[1], left - 6, y - 2.6, 'right', 'middle', SUP_PX));
      kids.push(label(parts[0], left - 6.3 - supW, y + 1.2, 'right', 'middle', BASE_PX));
    });
    kids.push(label(p.title, (left + right) / 2, top - 4, 'center', 'bottom', 11.3));
    return { type: 'group', children: kids };
  };
}

function renderBox(params, api) {
  const cs = params.coordSys;
  const top = cs.y, bottom = cs.y + cs.height;
  const band = cs.width / categories.length;
  const bw = band * 0.5, cw = band * 0.25;
  const c = api.value(0);
  const x = api.coord([c, api.value(3)])[0];
  const ys = [1, 2, 3, 4, 5].map(d => api.coord([c, api.value(d)])[1]);
  const cl = y => Math.max(top, Math.min(bottom, y));
  const inside = y => y >= top - 0.3 && y <= bottom + 0.3;
  const [yLo, yQ1, yMed, yQ3, yHi] = ys;
  const kids = [];
  if (!(yQ1 < top && yLo < top) && !(yQ1 > bottom && yLo > bottom)) kids.push(line(x, cl(yLo), x, cl(yQ1), '#111', 0.9));
  if (!(yQ3 < top && yHi < top) && !(yQ3 > bottom && yHi > bottom)) kids.push(line(x, cl(yQ3), x, cl(yHi), '#111', 0.9));
  if (inside(yLo)) kids.push(line(x - cw / 2, yLo, x + cw / 2, yLo, '#111', 0.9));
  if (inside(yHi)) kids.push(line(x - cw / 2, yHi, x + cw / 2, yHi, '#111', 0.9));
  if (!(yQ1 < top && yQ3 < top) && !(yQ1 > bottom && yQ3 > bottom)) {
    const y1 = cl(yQ3), y2 = cl(yQ1);
    kids.push({ type: 'rect', shape: { x: x - bw / 2, y: y1, width: bw, height: y2 - y1 },
      style: { fill: BLUE, stroke: '#111', lineWidth: 0.8 } });
  }
  if (inside(yMed)) kids.push(line(x - bw / 2, yMed, x + bw / 2, yMed, ORANGE, 1.5));
  return { type: 'group', children: kids };
}

function makeRefs(p) {
  return function (params, api) {
    const cs = params.coordSys;
    const top = cs.y, bottom = cs.y + cs.height;
    const band = cs.width / categories.length;
    const kids = [];
    groups.slice(1).forEach(g => {
      const x = cs.x + g[0] * band;
      kids.push(line(x, top, x, bottom, '#5a93c6', 1.8));
    });
    p.ref.forEach((pair, gi) => {
      const x1 = cs.x + groups[gi][0] * band, x2 = cs.x + (groups[gi][1] + 1) * band;
      pair.forEach(v => {
        const y = api.coord([0, v])[1];
        if (y < top || y > bottom) return;
        kids.push(line(x1, y, x2, y, REF, 1.8, [8, 10]));
      });
    });
    return { type: 'group', children: kids };
  };
}

const grids = [], xAxes = [], yAxes = [], series = [];
panels.forEach((p, i) => {
  const showCat = p.row === 3 || (p.row === 2 && p.col >= 4);
  const mid = Math.sqrt(p.lim[0] * p.lim[1]);
  grids.push({ left: colLeft[p.col], top: rowTop[p.row], width: panelW, height: panelH,
    show: true, borderColor: AXIS, borderWidth: 0.8, backgroundColor: 'transparent' });
  xAxes.push({ gridIndex: i, type: 'category', data: categories, boundaryGap: true,
    axisLine: { show: true, lineStyle: { color: AXIS, width: 0.8 } },
    axisTick: { show: true, alignWithLabel: true, interval: 0, length: 3.5, lineStyle: { color: AXIS, width: 0.8 } },
    axisLabel: { show: showCat, interval: 0, rotate: 90, fontSize: 8.3, color: TEXT, margin: 6, fontFamily: FONT },
    splitLine: { show: false } });
  yAxes.push({ gridIndex: i, type: 'log', logBase: 10, min: p.lim[0], max: p.lim[1],
    axisLine: { show: false }, axisTick: { show: false }, axisLabel: { show: false },
    splitLine: { show: false }, minorTick: { show: false }, minorSplitLine: { show: false } });

  const boxData = [], pointData = [];
  p.box.forEach((b, c) => {
    if (typeof b === 'number') { boxData.push([c, b, b, b, b, b]); pointData.push([c, b]); }
    else if (b.length === 1) boxData.push([c, b[0], b[0], b[0], b[0], b[0]]);
    else boxData.push([c].concat(b));
  });

  series.push({ type: 'custom', xAxisIndex: i, yAxisIndex: i, z: 1, silent: true,
    renderItem: makeDecor(p), data: [[0, mid]], encode: { x: 0, y: 1 } });
  series.push({ type: 'custom', xAxisIndex: i, yAxisIndex: i, z: 3, silent: true,
    renderItem: renderBox, data: boxData, encode: { x: 0, y: [1, 2, 3, 4, 5] } });
  series.push({ type: 'custom', xAxisIndex: i, yAxisIndex: i, z: 4, silent: true,
    renderItem: makeRefs(p), data: [[0, mid]], encode: { x: 0, y: 1 } });
  series.push({ type: 'scatter', xAxisIndex: i, yAxisIndex: i, z: 5, silent: true,
    symbol: 'circle', symbolSize: 7, data: p.out,
    itemStyle: { color: 'rgba(0,0,0,0)', borderColor: 'rgba(0,0,0,0.6)', borderWidth: 1.1 } });
  series.push({ type: 'scatter', xAxisIndex: i, yAxisIndex: i, z: 6, silent: true,
    symbol: 'circle', symbolSize: 7, data: pointData,
    itemStyle: { color: 'rgba(0,0,0,0)', borderColor: 'rgba(0,0,0,0.92)', borderWidth: 1.7 } });
});

const chart = echarts.init(document.getElementById('main'), null, { renderer: 'svg' });
chart.setOption({
  animation: false,
  backgroundColor: '#fff',
  textStyle: { fontFamily: FONT },
  grid: grids,
  xAxis: xAxes,
  yAxis: yAxes,
  series: series
});
</script>
</body>
</html>
